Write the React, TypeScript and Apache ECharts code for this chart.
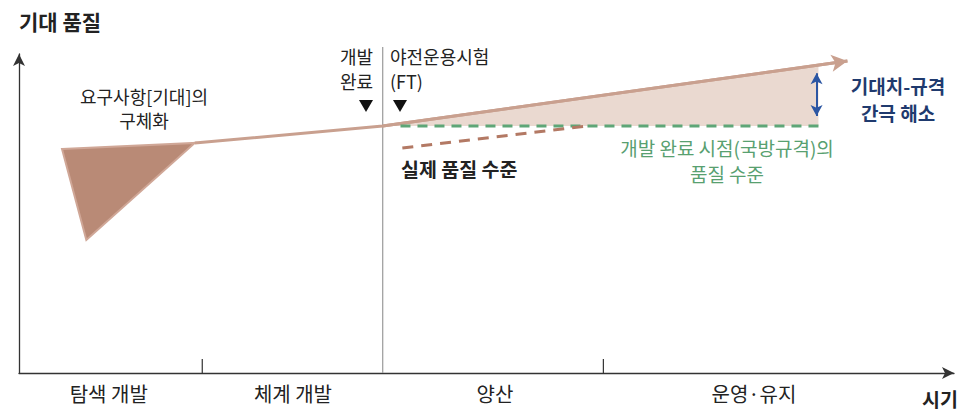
import React, { useEffect, useRef } from "react";
import * as echarts from "echarts";

// Conceptual units: time 0..100 (x), quality 0..100 (y)
const phaseNames = ["탐색 개발", "체계 개발", "양산", "운영·유지"];
const phaseLabelX = [9.6, 29.3, 50.9, 78.6];
const phaseBoundaries = [19.6, 38.9, 62.5];
const ftBoundaryIndex = 1;

const requirementTriangle: number[][] = [
  [4.6, 70.2],
  [18.8, 72.1],
  [7.2, 41.7],
];
const expectationLine: number[][] = [
  [18.8, 72.1],
  [38.9, 77.4],
  [88.6, 97.8],
];
const specQualityLevel = 77.4;
const specLineRange = [40.8, 86.1];
const gapEndX = 85.5;
const actualQualityLine: number[][] = [
  [41.0, 70.5],
  [60.7, 77.4],
];
const gapArrowX = 85.3;
const gapArrowRange = [80.6, 94.0];
const topOfChart = 102.2;

const FONT = "'Noto Sans CJK KR', 'Noto Sans', sans-serif";

function interpY(line: number[][], x: number): number {
  for (let i = 0; i < line.length - 1; i++) {
    const [x0, y0] = line[i];
    const [x1, y1] = line[i + 1];
    if (x >= x0 && x <= x1) return y0 + ((x - x0) / (x1 - x0)) * (y1 - y0);
  }
  return line[line.length - 1][1];
}

function txt(text: string, x: number, y: number, size: number, fill: string, align: string, bold = false) {
  return {
    type: "text",
    x,
    y,
    style: {
      text,
      fontSize: size,
      fontWeight: bold ? "bold" : "normal",
      fontFamily: FONT,
      fill,
      align,
      verticalAlign: "middle",
    },
  };
}

export default function App() {
  const ref = useRef<HTMLDivElement>(null);
  useEffect(() => {
    if (!ref.current) return;
    const chart = echarts.init(ref.current, undefined, { renderer: "svg" });
    const bend = expectationLine[1];
    const gapPoly = [
      [bend[0], specQualityLevel],
      ...expectationLine.filter((p) => p[0] > bend[0] - 1e-9 && p[0] < gapEndX),
      [gapEndX, interpY(expectationLine, gapEndX)],
      [gapEndX, specQualityLevel],
    ];
    const option: any = {
      animation: false,
      grid: { left: 19, right: 8, top: 54, bottom: 38, containLabel: false },
      xAxis: {
        type: "value",
        min: 0,
        max: 100,
        splitLine: { show: false },
        axisTick: { show: false },
        axisLabel: { show: false },
        axisLine: {
          show: true,
          symbol: ["none", "arrow"],
          symbolSize: [9, 12],
          lineStyle: { color: "#333", width: 1.3 },
        },
      },
      yAxis: {
        type: "value",
        min: 0,
        max: 100,
        splitLine: { show: false },
        axisTick: { show: false },
        axisLabel: { show: false },
        axisLine: {
          show: true,
          symbol: ["none", "arrow"],
          symbolSize: [9, 12],
          lineStyle: { color: "#333", width: 1.3 },
        },
      },
      series: [
        {
          type: "custom",
          name: "phases",
          silent: true,
          z: 1,
          data: phaseNames.map((n, i) => [phaseLabelX[i], 0]),
          renderItem: (params: any, api: any) => {
            const i = params.dataIndex;
            const children: any[] = [];
            const c = api.coord([phaseLabelX[i], 0]);
            children.push({
              type: "text",
              x: c[0],
              y: c[1] + 20,
              style: {
                text: phaseNames[i],
                fontSize: 20,
                fontFamily: FONT,
                fill: "#222",
                align: "center",
                verticalAlign: "middle",
              },
            });
            if (i < phaseBoundaries.length) {
              const b = api.coord([phaseBoundaries[i], 0]);
              if (i === ftBoundaryIndex) {
                const t = api.coord([phaseBoundaries[i], topOfChart]);
                children.push({
                  type: "line",
                  shape: { x1: b[0], y1: b[1], x2: t[0], y2: t[1] },
                  style: { stroke: "#9a9a9a", lineWidth: 1.2 },
                });
              } else {
                children.push({
                  type: "line",
                  shape: { x1: b[0], y1: b[1], x2: b[0], y2: b[1] - 14 },
                  style: { stroke: "#333", lineWidth: 1.2 },
                });
              }
            }
            return { type: "group", children };
          },
        },
        {
          type: "custom",
          name: "gap",
          silent: true,
          z: 2,
          data: [[gapEndX, specQualityLevel]],
          renderItem: (params: any, api: any) => ({
            type: "polygon",
            shape: { points: gapPoly.map((p) => api.coord(p)) },
            style: { fill: "#ead9d0" },
          }),
        },
        {
          type: "custom",
          name: "requirement",
          silent: true,
          z: 3,
          data: [requirementTriangle[0]],
          renderItem: (params: any, api: any) => ({
            type: "polygon",
            shape: { points: requirementTriangle.map((p) => api.coord(p)) },
            style: { fill: "#b98a76", stroke: "#d0a797", lineWidth: 2, lineJoin: "miter" },
          }),
        },
        {
          type: "line",
          name: "expectation",
          silent: true,
          z: 4,
          data: expectationLine,
          showSymbol: false,
          symbol: "none",
          lineStyle: { color: "#c9a08f", width: 3 },
          markLine: {
            silent: true,
            symbol: ["none", "arrow"],
            symbolSize: [13, 16],
            label: { show: false },
            lineStyle: { color: "#c9a08f", width: 3, type: "solid" },
            data: [[{ coord: expectationLine[1] }, { coord: expectationLine[2] }]],
          },
        },
        {
          type: "line",
          name: "spec",
          silent: true,
          z: 5,
          data: specLineRange.map((x) => [x, specQualityLevel]),
          showSymbol: false,
          symbol: "none",
          lineStyle: { color: "#5ea677", width: 3, type: [10, 7] },
        },
        {
          type: "line",
          name: "actual",
          silent: true,
          z: 5,
          data: actualQualityLine,
          showSymbol: false,
          symbol: "none",
          lineStyle: { color: "#b37964", width: 3, type: [11, 8] },
        },
        {
          type: "line",
          name: "gapArrow",
          silent: true,
          z: 6,
          data: [],
          markLine: {
            silent: true,
            symbol: ["arrow", "arrow"],
            symbolSize: [9, 11],
            label: { show: false },
            lineStyle: { color: "#2c56a3", width: 2, type: "solid" },
            data: [
              [
                { coord: [gapArrowX, gapArrowRange[0]] },
                { coord: [gapArrowX, gapArrowRange[1]] },
              ],
            ],
          },
        },
      ],
      graphic: [
        txt("기대 품질", 19, 21, 21, "#222", "left", true),
        txt("시기", 958, 398, 19.5, "#222", "right", true),
        txt("요구사항[기대]의", 144, 96, 18, "#222", "center"),
        txt("구체화", 144, 120, 18, "#222", "center"),
        txt("개발", 373, 56, 18, "#222", "right"),
        txt("완료", 373, 80.5, 18, "#222", "right"),
        txt("야전운용시험", 390, 56, 18, "#222", "left"),
        txt("(FT)", 390, 80.5, 18, "#222", "left"),
        {
          type: "polygon",
          shape: { points: [[359, 100], [373, 100], [366, 112]] },
          style: { fill: "#111" },
        },
        {
          type: "polygon",
          shape: { points: [[393, 100], [407, 100], [400, 112]] },
          style: { fill: "#111" },
        },
        txt("성능개량 필요 분야", 730, 99, 18, "#2f56a0", "center"),
        txt("기대치-규격", 898, 85, 19, "#1f3a6e", "center", true),
        txt("간극 해소", 898, 112, 19, "#1f3a6e", "center", true),
        txt("개발 완료 시점(국방규격)의", 727, 147, 19, "#58a070", "center"),
        txt("품질 수준", 727, 173, 19, "#58a070", "center"),
        txt("실제 품질 수준", 401, 168, 19.5, "#222", "left", true),
      ],
    };
    chart.setOption(option);
    return () => chart.dispose();
  }, []);
  return (
    <div
      ref={ref}
      style={{ position: "fixed", left: 0, top: 0, width: 962, height: 411, background: "#fff" }}
    />
  );
}
